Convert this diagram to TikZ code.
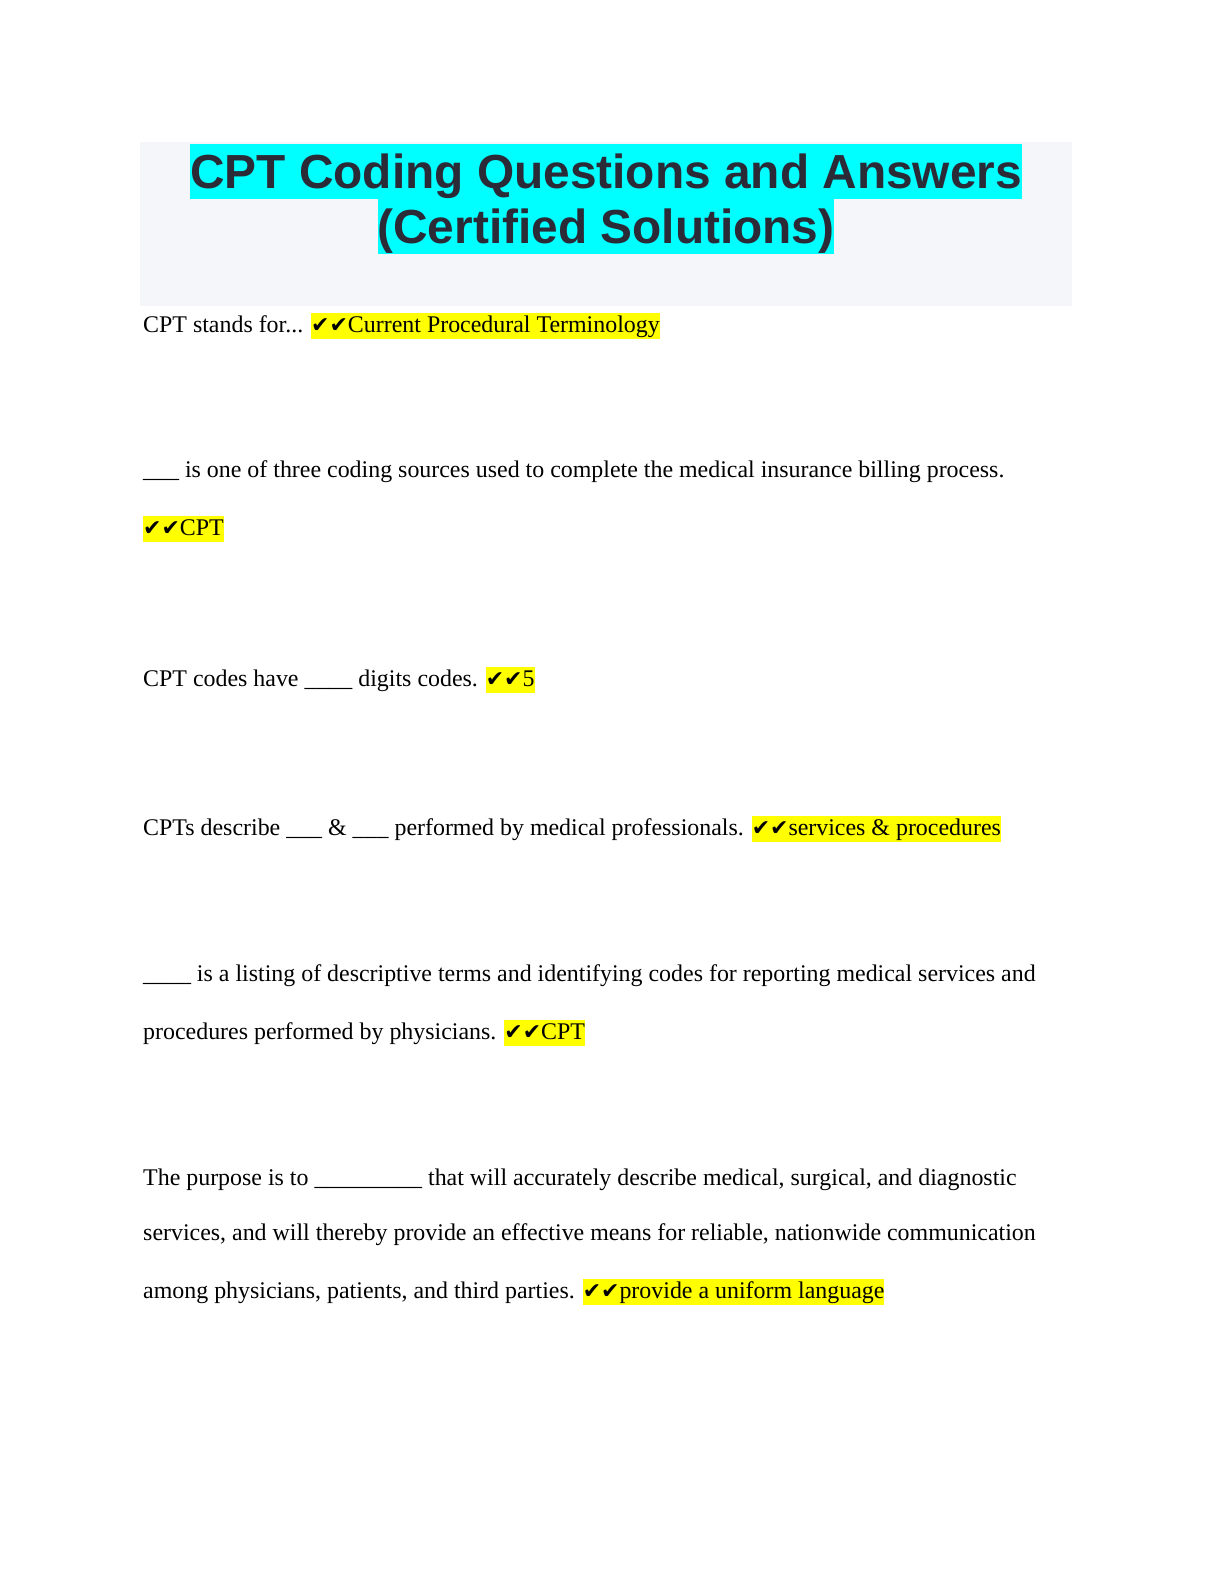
\documentclass[tikz,border=0pt]{standalone}
\usepackage{fontspec}
\usepackage{xcolor}
\setmainfont{Liberation Serif}
\newfontfamily\titlefont{Liberation Sans}
\newfontfamily\symfont{DejaVu Sans}
\definecolor{titlebg}{HTML}{F5F6FA}
\definecolor{titletext}{HTML}{2B2B38}
\definecolor{hcyan}{HTML}{00FFFF}
\definecolor{hyel}{HTML}{FFFF00}
\newcommand{\ck}{{\symfont\fontsize{22}{26}\selectfont ✔✔}}
\newcommand{\hl}[1]{{\setlength{\fboxsep}{0pt}\colorbox{hyel}{\rule[-7pt]{0pt}{26pt}#1}}}
\newcommand{\hc}[1]{{\setlength{\fboxsep}{0pt}\colorbox{hcyan}{\rule[-11pt]{0pt}{55pt}#1}}}
\tikzset{line/.style={anchor=base west,inner sep=0pt,font=\fontsize{24}{28}\selectfont}}
\begin{document}
\begin{tikzpicture}[x=1bp,y=-1bp]
\useasboundingbox (0,0) rectangle (1224,1584);
\fill[titlebg] (140,142) rectangle (1072,306);
\node[anchor=base,inner sep=0pt,font=\titlefont\bfseries\fontsize{48}{54}\selectfont,text=titletext] (t1) at (606,188) {\hc{CPT Coding Questions and Answers}};
\node[anchor=base,inner sep=0pt,font=\titlefont\bfseries\fontsize{48}{54}\selectfont,text=titletext] (t2) at (606,243) {\hc{(Certified Solutions)}};
\node[line] (l1) at (143,332) {CPT stands for... \hl{\ck Current Procedural Terminology}};
\node[line] (l2) at (143,477) {\_\_\_ is one of three coding sources used to complete the medical insurance billing process.};
\node[line] (l3) at (143,535) {\hl{\ck CPT}};
\node[line] (l4) at (143,686) {CPT codes have \_\_\_\_ digits codes. \hl{\ck 5}};
\node[line] (l5) at (143,835) {CPTs describe \_\_\_ \& \_\_\_ performed by medical professionals. \hl{\ck services \& procedures}};
\node[line] (l6) at (143,981) {\_\_\_\_ is a listing of descriptive terms and identifying codes for reporting medical services and};
\node[line] (l7) at (143,1039) {procedures performed by physicians. \hl{\ck CPT}};
\node[line] (l8) at (143,1185) {The purpose is to \_\_\_\_\_\_\_\_\_ that will accurately describe medical, surgical, and diagnostic};
\node[line] (l9) at (143,1240) {services, and will thereby provide an effective means for reliable, nationwide communication};
\node[line] (l10) at (143,1298) {among physicians, patients, and third parties. \hl{\ck provide a uniform language}};
\end{tikzpicture}
\end{document}
